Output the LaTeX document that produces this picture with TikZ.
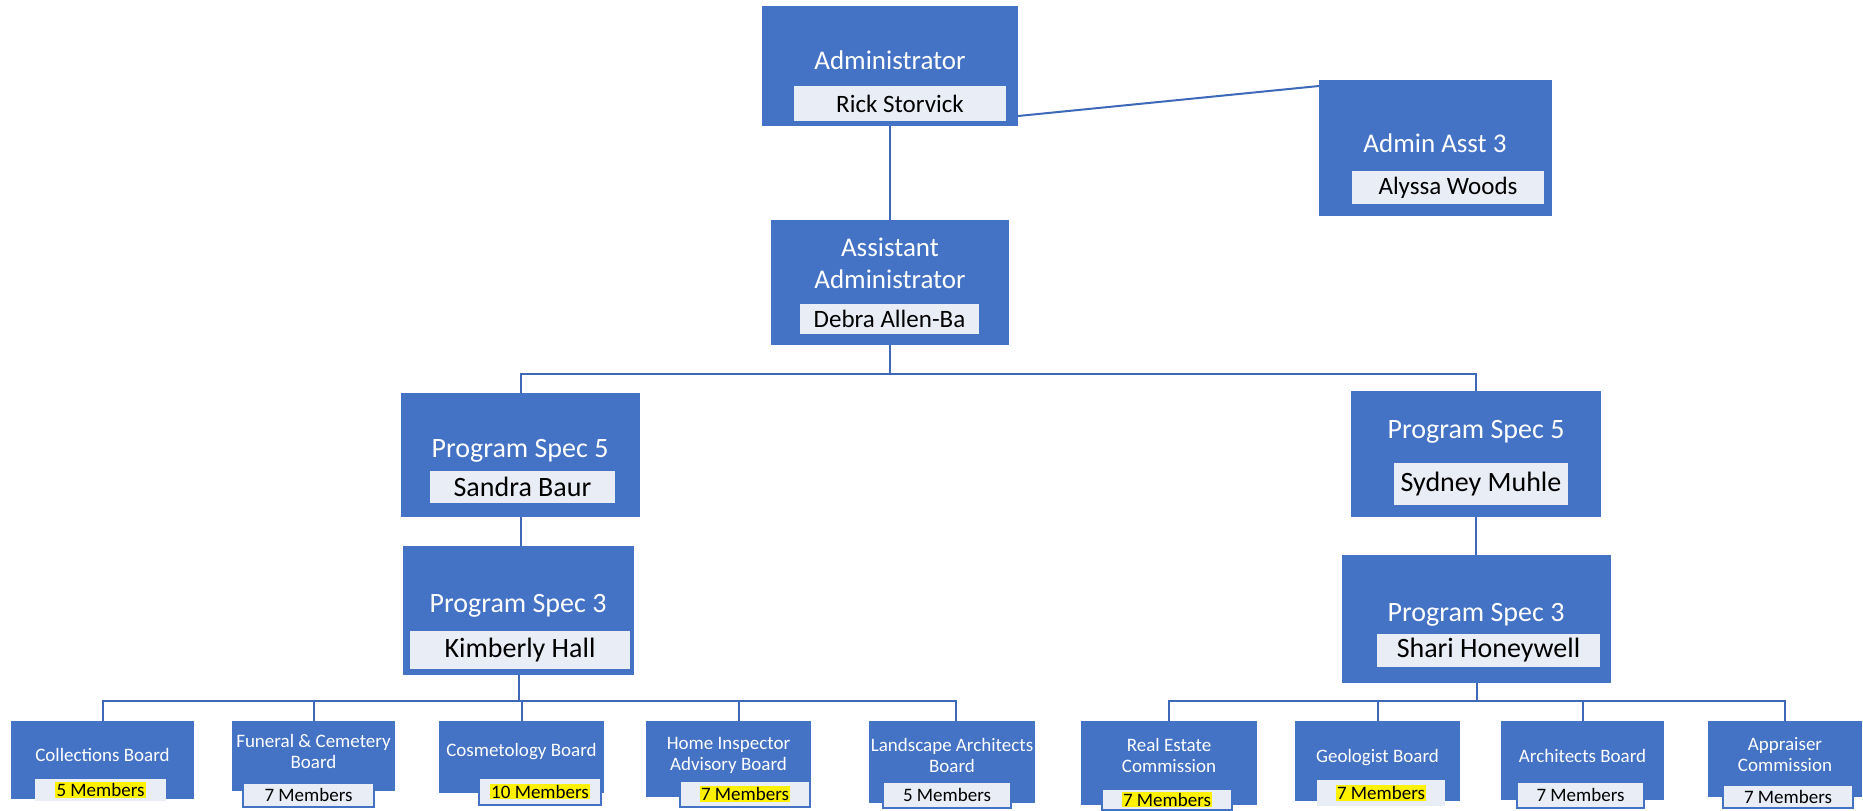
\documentclass[tikz,border=0pt]{standalone}
\usepackage{fontspec}
\setmainfont{Carlito}
\definecolor{orgblue}{RGB}{68,114,196}
\definecolor{orgline}{RGB}{62,104,184}
\definecolor{namefill}{RGB}{233,237,246}
\newcommand{\hlt}[1]{{\setlength{\fboxsep}{0.6pt}\colorbox{yellow}{#1}}}

\begin{document}
\begin{tikzpicture}[
		x=0.5pt,y=-0.5pt,
		every node/.style={inner sep=0pt,outer sep=0pt},
		box/.style={rectangle,fill=orgblue},
		title/.style={text=white,align=center,font=\fontsize{13.5}{16}\selectfont},
		spec/.style={text=white,align=center,font=\fontsize{14}{17}\selectfont},
		person/.style={rectangle,fill=namefill,text=black,font=\fontsize{12.5}{15}\selectfont},
		specperson/.style={person,font=\fontsize{14}{17}\selectfont},
		board/.style={text=white,align=center,font=\fontsize{9.5}{10.5}\selectfont},
		members/.style={rectangle,fill=namefill,draw=orgblue,line width=0.6pt,font=\fontsize{9.5}{11}\selectfont},
		link/.style={draw=orgline,line width=1pt}
		]
		\path[use as bounding box] (0,0) rectangle (1863,810);
		\node[box,minimum width=128pt,minimum height=60pt] (admin) at (890,66) {};
		\node[title] (admin-t) at (890,60) {Administrator};
		\node[person,minimum width=106pt,minimum height=17.5pt] (admin-n) at (900,103.5) {Rick Storvick};
		\node[box,minimum width=116.5pt,minimum height=68pt] (asst) at (1435.5,148) {};
		\node[title] (asst-t) at (1435,143) {Admin Asst 3};
		\node[person,minimum width=96pt,minimum height=16.5pt] (asst-n) at (1448,187.5) {Alyssa Woods};
		\node[box,minimum width=119pt,minimum height=62.5pt] (assadm) at (890,282.5) {};
		\node[title] (assadm-t) at (890,263) {Assistant\\Administrator};
		\node[person,minimum width=89.5pt,minimum height=15pt] (assadm-n) at (889.5,319) {Debra Allen-Ba};
		\node[box,minimum width=119.5pt,minimum height=62pt] (ps5l) at (520.5,455) {};
		\node[spec] (ps5l-t) at (520,451) {Program Spec 5};
		\node[specperson,minimum width=92.5pt,minimum height=16pt] (ps5l-n) at (522.5,487) {Sandra Baur};
		\node[box,minimum width=115.5pt,minimum height=64.5pt] (ps3l) at (518.5,610.5) {};
		\node[spec] (ps3l-t) at (518,606) {Program Spec 3};
		\node[specperson,minimum width=110pt,minimum height=19pt] (ps3l-n) at (520,650) {Kimberly Hall};
		\node[box,minimum width=125pt,minimum height=63pt] (ps5r) at (1476,454) {};
		\node[spec] (ps5r-t) at (1476,432) {Program Spec 5};
		\node[specperson,minimum width=87pt,minimum height=21pt] (ps5r-n) at (1481,484) {Sydney Muhle};
		\node[box,minimum width=134.5pt,minimum height=64pt] (ps3r) at (1476.5,619) {};
		\node[spec] (ps3r-t) at (1476,615) {Program Spec 3};
		\node[specperson,minimum width=111.5pt,minimum height=16.5pt] (ps3r-n) at (1488.5,650.5) {Shari Honeywell};
		\node[box,minimum width=91.5pt,minimum height=39pt] (coll) at (102.5,760) {};
		\node[board] (coll-t) at (102.5,755) {Collections Board};
		\node[members,draw=none,minimum width=65.5pt,minimum height=11pt] (coll-m) at (100.5,790) {\hlt{5 Members}};
		\node[box,minimum width=81.5pt,minimum height=35pt] (fun) at (313.5,756) {};
		\node[board] (fun-t) at (313.5,751) {Funeral \& Cemetery\\Board};
		\node[members,minimum width=65.5pt,minimum height=12pt] (fun-m) at (308.5,795) {7 Members};
		\node[box,minimum width=82.5pt,minimum height=36pt] (cos) at (521.5,757) {};
		\node[board] (cos-t) at (521.5,752) {Cosmetology Board};
		\node[members,minimum width=61pt,minimum height=13.5pt] (cos-m) at (540,791.5) {\hlt{10 Members}};
		\node[box,minimum width=82.5pt,minimum height=38pt] (home) at (728.5,759) {};
		\node[board] (home-t) at (728.5,755) {Home Inspector\\Advisory Board};
		\node[members,minimum width=65pt,minimum height=13pt] (home-m) at (745,794) {\hlt{7 Members}};
		\node[box,minimum width=83pt,minimum height=41pt] (land) at (952,762) {};
		\node[board] (land-t) at (952,755) {Landscape Architects\\Board};
		\node[members,minimum width=64pt,minimum height=13pt] (land-m) at (947,795) {5 Members};
		\node[box,minimum width=88pt,minimum height=42pt] (real) at (1169,763) {};
		\node[board] (real-t) at (1169,755) {Real Estate\\Commission};
		\node[members,minimum width=65pt,minimum height=10.5pt] (real-m) at (1167,799.5) {\hlt{7 Members}};
		\node[box,minimum width=82.5pt,minimum height=40pt] (geo) at (1377.5,761) {};
		\node[board] (geo-t) at (1377.5,758) {Geologist Board};
		\node[members,draw=none,minimum width=64pt,minimum height=13pt] (geo-m) at (1381,793) {\hlt{7 Members}};
		\node[box,minimum width=81.5pt,minimum height=39.5pt] (arch) at (1582.5,760.5) {};
		\node[board] (arch-t) at (1582.5,756) {Architects Board};
		\node[members,minimum width=63.5pt,minimum height=13pt] (arch-m) at (1580.5,795) {7 Members};
		\node[box,minimum width=77pt,minimum height=38pt] (appr) at (1785,759) {};
		\node[board] (appr-t) at (1785,754.5) {Appraiser\\Commission};
		\node[members,minimum width=65pt,minimum height=11.5pt] (appr-m) at (1788,796.5) {7 Members};
		\coordinate (top-bus) at (890,374);
		\coordinate (left-bus) at (518.5,701);
		\coordinate (right-bus) at (1476.5,701);
		\draw[link] ([yshift=5pt]admin.south east) -- ([yshift=-3pt]asst.north west);
		\draw[link] (admin.south) -- (assadm.north);
		\draw[link] (assadm.south) -- (top-bus) -| (ps5l.north);
		\draw[link] (top-bus) -| (ps5r.north);
		\draw[link] (ps5l.south) -- (ps3l.north -| ps5l.south);
		\draw[link] (ps5r.south) -- (ps3r.north -| ps5r.south);
		\draw[link] (ps3l.south) -- (left-bus);
		\draw[link] (left-bus) -| (coll.north);
		\draw[link] (left-bus) -| (fun.north);
		\draw[link] (left-bus) -| (cos.north);
		\draw[link] (left-bus) -| ([xshift=5pt]home.north);
		\draw[link] (left-bus) -| ([xshift=2pt]land.north);
		\draw[link] (ps3r.south) -- (right-bus);
		\draw[link] (right-bus) -| (real.north);
		\draw[link] (right-bus) -| (geo.north);
		\draw[link] (right-bus) -| (arch.north);
		\draw[link] (right-bus) -| (appr.north);
\end{tikzpicture}
\end{document}
